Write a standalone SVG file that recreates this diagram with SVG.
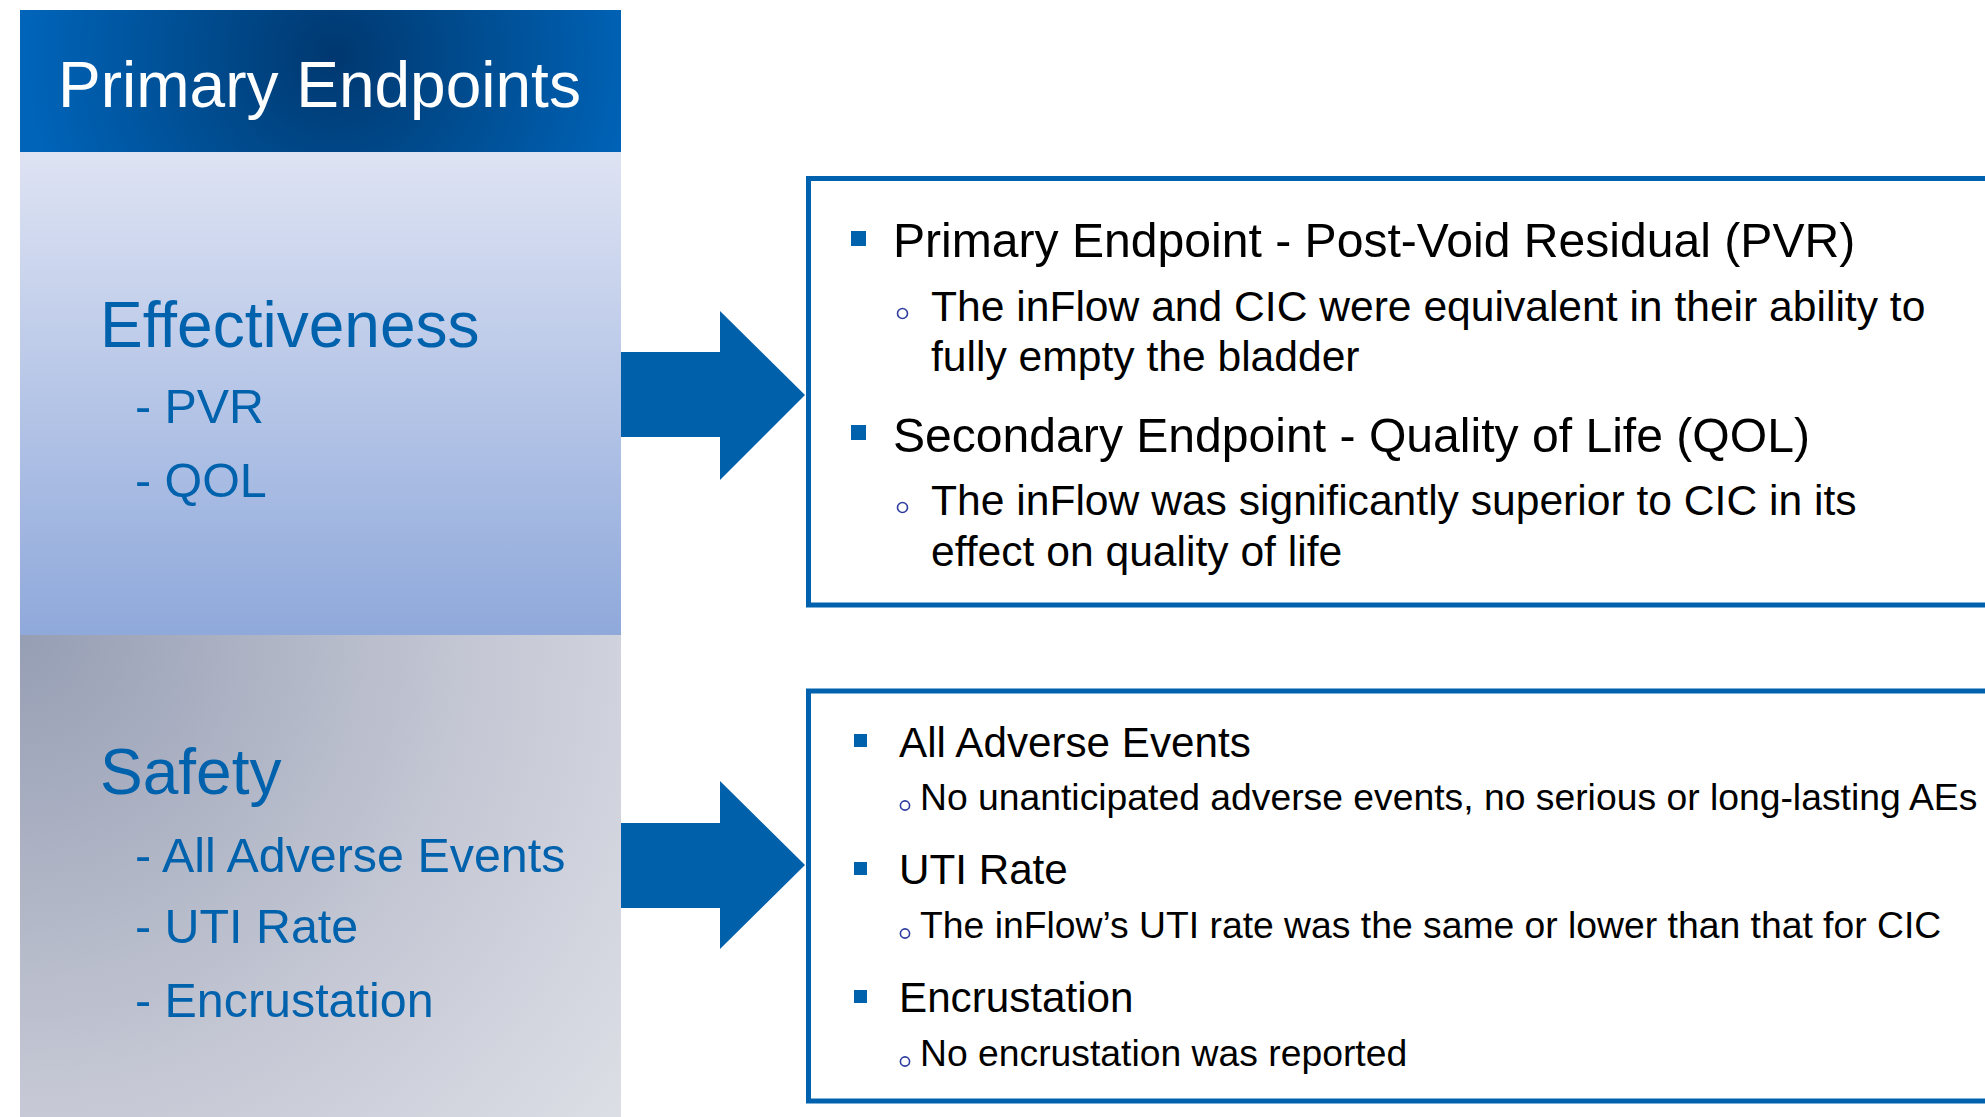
<svg xmlns="http://www.w3.org/2000/svg" width="1985" height="1117" viewBox="0 0 1985 1117">
  <defs>
    <radialGradient id="hdrGrad" gradientUnits="userSpaceOnUse" cx="335" cy="55" r="310">
      <stop offset="0" stop-color="#003870"/>
      <stop offset="0.4" stop-color="#004a8c"/>
      <stop offset="1" stop-color="#0064b9"/>
    </radialGradient>
    <linearGradient id="effGrad" x1="0" y1="0" x2="0" y2="1">
      <stop offset="0" stop-color="#dee3f3"/>
      <stop offset="1" stop-color="#8fa9db"/>
    </linearGradient>
    <radialGradient id="safGrad" gradientUnits="userSpaceOnUse" cx="20" cy="635" r="860">
      <stop offset="0" stop-color="#969eb4"/>
      <stop offset="0.55" stop-color="#c6c9d5"/>
      <stop offset="1" stop-color="#e3e5eb"/>
    </radialGradient>
  </defs>
  <style>
    text { font-family: "Liberation Sans", Arial, sans-serif; }
    .title { fill: #ffffff; font-size: 64px; }
    .cat { fill: #0062ad; font-size: 64px; }
    .item { fill: #0062ad; font-size: 48.4px; }
    .main { fill: #000000; font-size: 48.1px; }
    .sub { fill: #000000; font-size: 42.6px; }
    .main2 { fill: #000000; font-size: 42.2px; }
    .sub2 { fill: #000000; font-size: 37.3px; }
    .box { fill: #ffffff; stroke: #0062ae; stroke-width: 5; }
    .sq { fill: #0062ad; }
    .ring { fill: none; stroke: #2e3da0; stroke-width: 1.6; }
    .arrow { fill: #0061aa; }
  </style>

  <rect width="1985" height="1117" fill="#ffffff"/>

  <!-- left column: title bar -->
  <g id="header">
    <rect x="20" y="10" width="601" height="142" fill="url(#hdrGrad)"/>
    <text class="title" x="58" y="107">Primary Endpoints</text>
  </g>

  <!-- left column: effectiveness block -->
  <g id="effectiveness">
    <rect x="20" y="152" width="601" height="483" fill="url(#effGrad)"/>
    <text class="cat" x="100" y="347">Effectiveness</text>
    <text class="item" x="135" y="423">- PVR</text>
    <text class="item" x="135" y="497">- QOL</text>
  </g>

  <!-- left column: safety block -->
  <g id="safety">
    <rect x="20" y="635" width="601" height="482" fill="url(#safGrad)"/>
    <text class="cat" x="100" y="794">Safety</text>
    <text class="item" x="135" y="872">- All Adverse Events</text>
    <text class="item" x="135" y="943">- UTI Rate</text>
    <text class="item" x="135" y="1017">- Encrustation</text>
  </g>

  <!-- right column: effectiveness results -->
  <g id="effectiveness-results">
    <rect class="box" x="808.5" y="178.5" width="1200" height="426.5"/>
    <rect class="sq" x="851" y="231" width="15" height="15"/>
    <text class="main" x="893" y="257">Primary Endpoint - Post-Void Residual (PVR)</text>
    <circle class="ring" cx="902.5" cy="313.5" r="5"/>
    <text class="sub" x="931" y="321">The inFlow and CIC were equivalent in their ability to</text>
    <text class="sub" x="931" y="371">fully empty the bladder</text>
    <rect class="sq" x="851" y="425" width="15" height="15"/>
    <text class="main" x="893" y="452">Secondary Endpoint - Quality of Life (QOL)</text>
    <circle class="ring" cx="902.5" cy="507.5" r="5"/>
    <text class="sub" x="931" y="515">The inFlow was significantly superior to CIC in its</text>
    <text class="sub" x="931" y="566">effect on quality of life</text>
  </g>

  <!-- right column: safety results -->
  <g id="safety-results">
    <rect class="box" x="808.5" y="691" width="1200" height="410"/>
    <rect class="sq" x="854" y="734" width="13" height="13"/>
    <text class="main2" x="899" y="757">All Adverse Events</text>
    <circle class="ring" cx="905" cy="805.5" r="4.6"/>
    <text class="sub2" x="920" y="810">No unanticipated adverse events, no serious or long-lasting AEs</text>
    <rect class="sq" x="854" y="862" width="13" height="13"/>
    <text class="main2" x="899" y="884">UTI Rate</text>
    <circle class="ring" cx="905" cy="933.5" r="4.6"/>
    <text class="sub2" x="920" y="938">The inFlow’s UTI rate was the same or lower than that for CIC</text>
    <rect class="sq" x="854" y="990" width="13" height="13"/>
    <text class="main2" x="899" y="1012">Encrustation</text>
    <circle class="ring" cx="905" cy="1061.5" r="4.6"/>
    <text class="sub2" x="920" y="1066">No encrustation was reported</text>
  </g>

  <!-- block arrows linking each category to its results -->
  <g id="connectors">
    <polygon class="arrow" points="621,352 720,352 720,311 805,395 720,480 720,437 621,437"/>
    <polygon class="arrow" points="621,823 720,823 720,781 805,865 720,949 720,908 621,908"/>
  </g>
</svg>
